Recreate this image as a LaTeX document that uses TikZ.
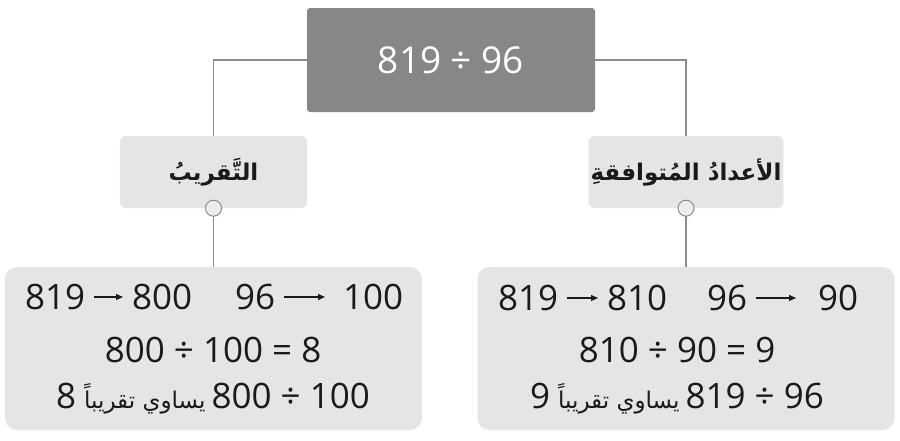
\documentclass[tikz,border=0pt]{standalone}
\usepackage{fontspec}
\setmainfont{Open Sans}
\newfontfamily\arabicfont[Script=Arabic]{DejaVu Sans}
\TeXXeTstate=1
\definecolor{HeadGray}{HTML}{878787}
\definecolor{LinkGray}{HTML}{8C8C8C}
\definecolor{PaleGray}{HTML}{E6E4E6}
\definecolor{InkDark}{HTML}{1A1A1A}
\usepackage{xcolor}
\usepackage{tikz}
\usetikzlibrary{arrows.meta, positioning}

\tikzset{
  headbox/.style={fill=HeadGray, rounded corners=3pt, minimum width=288, minimum height=104,
    text=white, font=\fontsize{37}{42}\selectfont},
  labelbox/.style={fill=PaleGray, rounded corners=6pt, minimum width=187, minimum height=72,
    inner xsep=2pt, text=InkDark, font=\arabicfont\bfseries\fontsize{23}{28}\selectfont},
  resultbox/.style={fill=PaleGray, rounded corners=12pt, minimum width=417, minimum height=163},
  knob/.style={circle, draw=LinkGray, fill=white!93!black, line width=1pt, minimum size=16, inner sep=0},
  link/.style={draw=LinkGray, line width=1.3pt},
  num/.style={anchor=west, inner sep=0, text=InkDark, font=\fontsize{35}{40}\selectfont},
  eqline/.style={anchor=base, inner sep=0, text=InkDark, font=\fontsize{35}{40}\selectfont},
  numarrow/.style={draw=InkDark, line width=1.2pt, -{Triangle[length=7pt,width=6pt]},
    shorten <=9pt, shorten >=9pt},
}
\newcommand{\arsmall}[1]{{\arabicfont\fontsize{23}{26}\selectfont\beginR #1\endR}}

\begin{document}
\begin{tikzpicture}[x=1pt, y=-1pt]
  \useasboundingbox (0,0) rectangle (900,440);

  % top question
  \node[headbox] (sum) at (451,60) {819 ÷ 96};

  % two ways
  \node[labelbox] (round) at (213.5,172) {\beginR التَّقريبُ\endR};
  \node[labelbox] (compat) at (686,172) {\beginR الأعدادُ المُتوافقةِ\endR};

  \node[resultbox] (roundres) at (213.5,348.5) {};
  \node[resultbox] (compatres) at (686,348.5) {};

  \draw[link] (sum.west) -| (round.north);
  \draw[link] (sum.east) -| (compat.north);
  \draw[link] (round.south) -- (roundres.north);
  \draw[link] (compat.south) -- (compatres.north);
  \node[knob] (roundknob) at (round.south) {};
  \node[knob] (compatknob) at (compat.south) {};

  % rounding
  \node[num] (ra) at (25,297) {819};
  \node[num] (rb) at (132,297) {800};
  \node[num] (rc) at (235,297) {96};
  \node[num] (rd) at (343,297) {100};
  \draw[numarrow] (ra) -- (rb);
  \draw[numarrow, shorten >=18pt] (rc) -- (rd);
  \node[eqline] (rquot) at (213,362) {800 ÷ 100 = 8};
  \node[eqline] (rsays) at (213,408) {8\hspace{8pt}\arsmall{يساوي تقريباً}\hspace{6pt}800 ÷ 100};

  % compatible numbers
  \node[num] (ca) at (498,298) {819};
  \node[num] (cb) at (607,298) {810};
  \node[num] (cc) at (707,298) {96};
  \node[num] (cd) at (818,298) {90};
  \draw[numarrow] (ca) -- (cb);
  \draw[numarrow, shorten >=22pt] (cc) -- (cd);
  \node[eqline] (cquot) at (677,362) {810 ÷ 90 = 9};
  \node[eqline] (csays) at (677,408) {9\hspace{8pt}\arsmall{يساوي تقريباً}\hspace{6pt}819 ÷ 96};
\end{tikzpicture}
\end{document}
